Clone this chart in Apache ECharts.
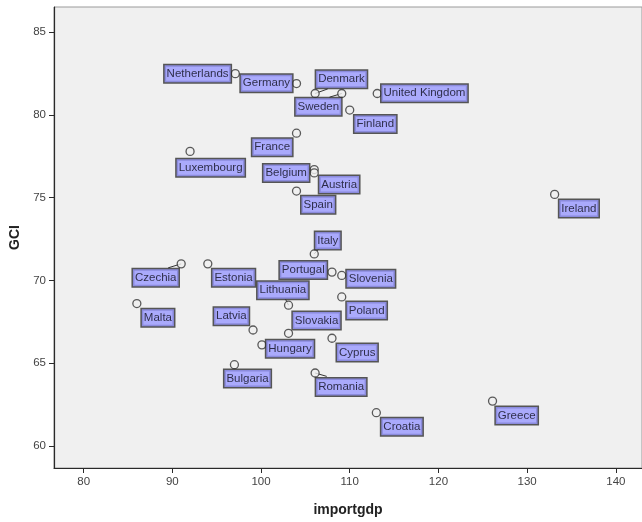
<!DOCTYPE html>
<html>
<head>
<meta charset="utf-8">
<script src="https://cdn.jsdelivr.net/npm/echarts@6/dist/echarts.min.js"></script>
<style>
html,body{margin:0;padding:0;background:#fff;}
#chart{width:642px;height:522px;}
</style>
</head>
<body>
<div id="chart"></div>
<script>
// ---- data ----
const countries = ['Netherlands','Germany','Denmark','Sweden','United Kingdom','Finland','France','Luxembourg','Austria','Belgium','Spain','Ireland','Italy','Czechia','Estonia','Portugal','Slovenia','Poland','Malta','Lithuania','Latvia','Slovakia','Cyprus','Hungary','Bulgaria','Romania','Greece','Croatia'];
const importgdp = [97.1,104.0,106.1,109.1,113.1,110.0,104.0,92.0,106.0,106.0,104.0,133.1,106.0,91.0,94.0,108.0,109.1,109.1,86.0,103.1,99.1,103.1,108.0,100.1,97.0,106.1,126.1,113.0];
const gci       = [82.5,81.9,81.3,81.3,81.3,80.3,78.9,77.8,76.7,76.5,75.4,75.2,71.6,71.0,71.0,70.5,70.3,69.0,68.6,68.5,67.0,66.8,66.5,66.1,64.9,64.4,62.7,62.0];
const xTicks = [80,90,100,110,120,130,140];
const yTicks = [60,65,70,75,80,85];

// ---- label placement (pixel offsets from the point, layout only) ----
const labelOffsets = {
  'Netherlands':[-4.7,0,'right'], 'Germany':[-4.4,-0.3,'right'], 'Denmark':[1,-14.3,'left'],
  'Sweden':[-0.6,13.2,'right'], 'United Kingdom':[4.3,-0.2,'left'], 'Finland':[4.7,14,'left'],
  'France':[-4.4,14,'right'], 'Luxembourg':[-13.4,16.3,'left'], 'Austria':[5,15,'left'],
  'Belgium':[-5.3,0,'right'], 'Spain':[5,13.8,'left'], 'Ireland':[4.7,14,'left'],
  'Italy':[1,-13.3,'left'], 'Czechia':[-2.7,13.8,'right'], 'Estonia':[4.6,13.8,'left'],
  'Portugal':[-5.3,-2.1,'right'], 'Slovenia':[5,3.3,'left'], 'Poland':[5,13.7,'left'],
  'Malta':[5,14.2,'left'], 'Lithuania':[19.7,-15,'right'], 'Latvia':[-4.3,-13.8,'right'],
  'Slovakia':[4.3,-12.8,'left'], 'Cyprus':[5,14.2,'left'], 'Hungary':[4.4,3.8,'left'],
  'Bulgaria':[-10,13.7,'left'], 'Romania':[1,13.9,'left'], 'Greece':[3.3,14.3,'left'],
  'Croatia':[5,14,'left']
};
const leaderEnds = {
  'Denmark':[12.6,-4.6], 'Sweden':[-12.3,3.7], 'Czechia':[-13,4], 'Romania':[11.6,3.4],
  'Italy':[4,-4.5], 'Lithuania':[-3,-6]
};

const pts = countries.map((c,i)=>({name:c, value:[importgdp[i], gci[i]]}));
const leaderData = countries.map((c,i)=>[importgdp[i], gci[i], i]).filter(d=>leaderEnds[countries[d[2]]]);

const chart = echarts.init(document.getElementById('chart'), null, {renderer:'canvas'});
chart.setOption({
  animation:false,
  backgroundColor:'#ffffff',
  grid:{left:54, right:-2, top:7, bottom:53, show:true, backgroundColor:'#f0f0f0', borderColor:'#9a9a9a', borderWidth:1},
  xAxis:{
    type:'value', min:76.66, max:142.95,
    name:'importgdp', nameLocation:'middle', nameGap:35,
    nameTextStyle:{fontFamily:'Liberation Sans', fontWeight:'bold', fontSize:14, color:'#222'},
    axisLine:{show:true, lineStyle:{color:'#2a2a2a', width:1.2}},
    axisTick:{show:true, length:5, customValues:xTicks, lineStyle:{color:'#2a2a2a'}},
    axisLabel:{customValues:xTicks, margin:8, fontFamily:'Liberation Sans', fontSize:11.5, color:'#444'},
    splitLine:{show:false}
  },
  yAxis:{
    type:'value', min:58.655, max:86.53,
    name:'GCI', nameLocation:'middle', nameGap:27,
    nameTextStyle:{fontFamily:'Liberation Sans', fontWeight:'bold', fontSize:14, color:'#222'},
    axisLine:{show:true, lineStyle:{color:'#2a2a2a', width:1.2}},
    axisTick:{show:true, length:5, customValues:yTicks, lineStyle:{color:'#2a2a2a'}},
    axisLabel:{customValues:yTicks, margin:8, fontFamily:'Liberation Sans', fontSize:11.5, color:'#444'},
    splitLine:{show:false}
  },
  series:[
    {
      type:'custom',
      z:1,
      silent:true,
      data:leaderData,
      renderItem:function(params, api){
        const p = api.coord([api.value(0), api.value(1)]);
        const o = leaderEnds[countries[api.value(2)]];
        return {type:'line', shape:{x1:p[0], y1:p[1], x2:p[0]+o[0], y2:p[1]+o[1]},
                style:{stroke:'#333', lineWidth:1}};
      }
    },
    {
      type:'scatter',
      z:2,
      symbol:'circle',
      symbolSize:8,
      data:pts,
      itemStyle:{color:'#f0f0f0', borderColor:'#333', borderWidth:1.3},
      label:{
        show:true, position:'inside', formatter:'{b}',
        fontFamily:'Liberation Sans', fontSize:11.5, color:'#0d0d1a', lineHeight:14,
        backgroundColor:'#9999ff', borderColor:'#2e2e2e', borderWidth:1.5,
        padding:[2,2,1,2]
      },
      labelLayout:function(params){
        const o = labelOffsets[countries[params.dataIndex]];
        const cx = params.rect.x + params.rect.width/2;
        const cy = params.rect.y + params.rect.height/2;
        return {x: cx + o[0], y: cy + o[1], align: o[2], verticalAlign:'middle'};
      },
      emphasis:{disabled:true}
    }
  ]
});
</script>
</body>
</html>
